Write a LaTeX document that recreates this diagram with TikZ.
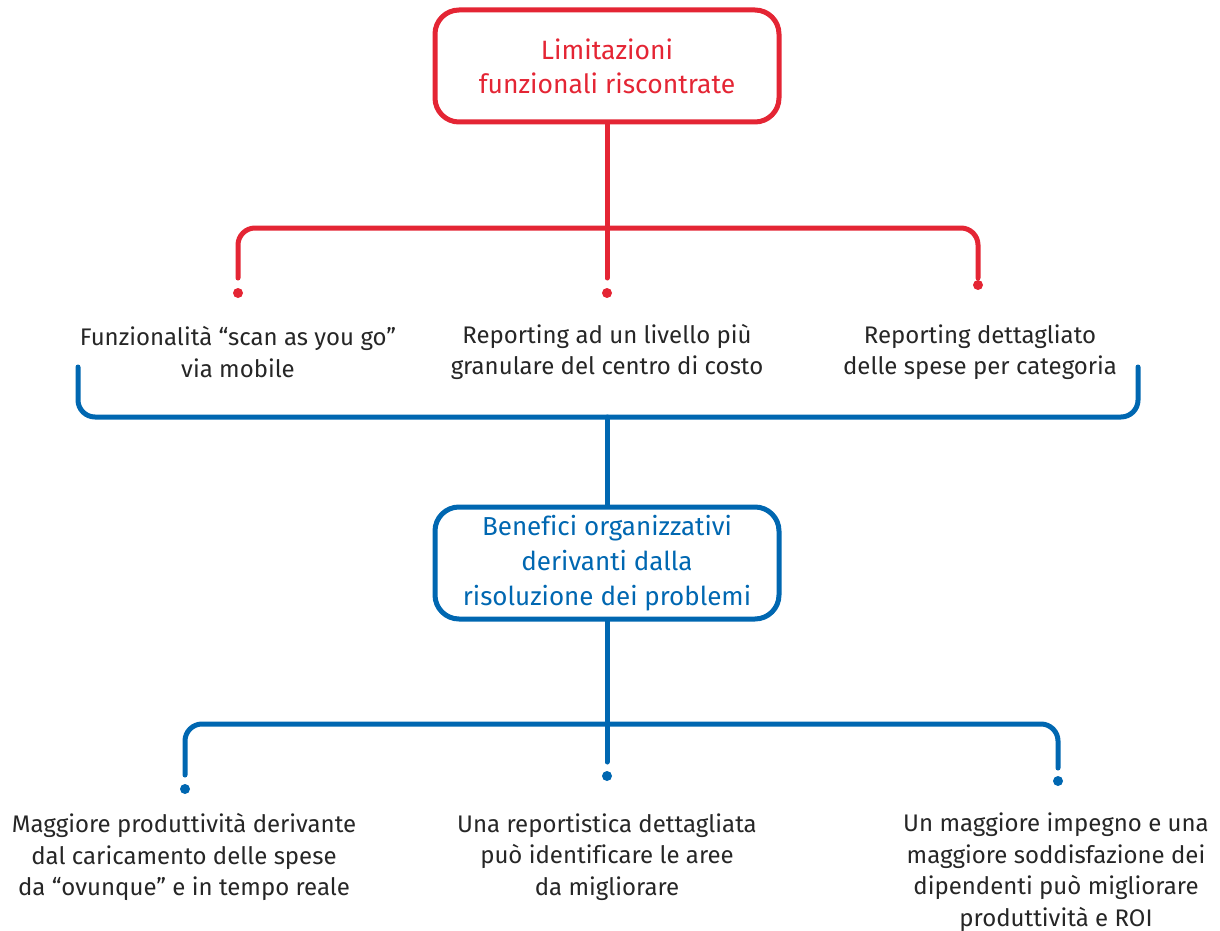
\documentclass[tikz,border=0pt]{standalone}
\usepackage{fontspec}
\setmainfont{Fira Sans}[Ligatures=NoCommon]
\definecolor{ecred}{RGB}{228,37,52}
\definecolor{ecblue}{RGB}{0,103,177}
\definecolor{txt}{RGB}{38,38,38}
\begin{document}
\begin{tikzpicture}[x=1pt,y=-1pt,
  box/.style={draw, line width=5pt, rounded corners=24pt, minimum width=344pt, minimum height=112pt, align=center, inner sep=0pt},
  lbl/.style={align=center, text=txt, font=\fontsize{24}{31.5}\selectfont, inner sep=0pt},
  redl/.style={draw=ecred, line width=5pt, rounded corners=17pt, line cap=round},
  bluel/.style={draw=ecblue, line width=5pt, rounded corners=17pt, line cap=round},
  rdot/.style={fill=ecred, circle, inner sep=0pt, minimum size=10pt},
  bdot/.style={fill=ecblue, circle, inner sep=0pt, minimum size=10pt}]
\useasboundingbox (0,0) rectangle (1220,931);
% top box
\node[box, draw=ecred, text=ecred, font=\fontsize{26.5}{34}\selectfont] (top) at (607,66) {Limitazioni\\funzionali riscontrate};
% red branches
\coordinate (rj) at (607,228);
\coordinate (rl) at (238,278);
\coordinate (rm) at (607,278);
\coordinate (rr) at (978,278);
\draw[redl] (top.south) -- (rj);
\draw[redl] (rl) -- (238,228) -- (978,228) -- (rr);
\draw[redl] (rj) -- (rm);
\node[rdot] (d1) at (238,293) {};
\node[rdot] (d2) at (607,293) {};
\node[rdot] (d3) at (978,285) {};
% middle labels
\node[lbl] (m1) at (238,352) {Funzionalità “scan as you go”\\via mobile};
\node[lbl] (m2) at (607,352) {Reporting ad un livello più\\granulare del centro di costo};
\node[lbl] (m3) at (980,352) {Reporting dettagliato\\delle spese per categoria};
% blue bracket
\coordinate (bl) at (78,367);
\coordinate (br) at (1138,367);
\coordinate (bj) at (607,417);
\draw[bluel] (bl) -- (78,417) -- (1138,417) -- (br);
% blue box
\node[box, draw=ecblue, text=ecblue, font=\fontsize{26}{35}\selectfont] (mid) at (607,563) {Bene{fi}ci organizzativi\\derivanti dalla\\risoluzione dei problemi};
\draw[bluel] (bj) -- (mid.north);
% lower branches
\coordinate (lj) at (607,724);
\coordinate (ll) at (185,775);
\coordinate (lm) at (607,762);
\coordinate (lr) at (1058,768);
\draw[bluel] (mid.south) -- (lj);
\draw[bluel] (ll) -- (185,724) -- (1058,724) -- (lr);
\draw[bluel] (lj) -- (lm);
\node[bdot] (e1) at (185,789) {};
\node[bdot] (e2) at (607,776) {};
\node[bdot] (e3) at (1058,781) {};
% bottom labels
\node[lbl] (b1) at (184,857) {Maggiore produttività derivante\\dal caricamento delle spese\\da “ovunque” e in tempo reale};
\node[lbl] (b2) at (607,857) {Una reportistica dettagliata\\può identificare le aree\\da migliorare};
\node[lbl] (b3) at (1056,872) {Un maggiore impegno e una\\maggiore soddisfazione dei\\dipendenti può migliorare\\produttività e ROI};
\end{tikzpicture}
\end{document}
